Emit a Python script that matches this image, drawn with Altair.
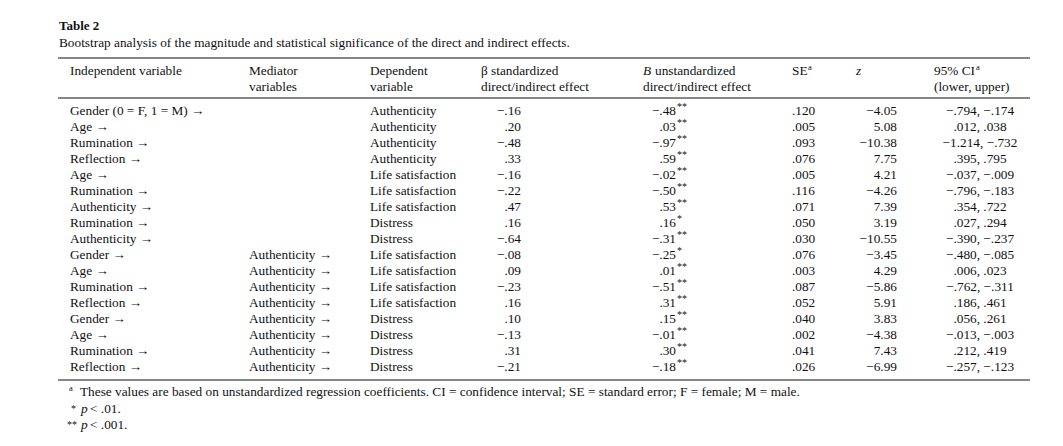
import altair as alt
import pandas as pd

# ---------------- data ----------------
independent = ["Gender (0 = F, 1 = M) →", "Age →", "Rumination →", "Reflection →", "Age →",
               "Rumination →", "Authenticity →", "Rumination →", "Authenticity →", "Gender →",
               "Age →", "Rumination →", "Reflection →", "Gender →", "Age →", "Rumination →",
               "Reflection →"]
mediator = [""] * 9 + ["Authenticity →"] * 8
dependent = (["Authenticity"] * 4 + ["Life satisfaction"] * 3 + ["Distress"] * 2
             + ["Life satisfaction"] * 4 + ["Distress"] * 4)
beta = ["−.16", ".20", "−.48", ".33", "−.16", "−.22", ".47", ".16", "−.64", "−.08", ".09",
        "−.23", ".16", ".10", "−.13", ".31", "−.21"]
b_unstd = ["−.48", ".03", "−.97", ".59", "−.02", "−.50", ".53", ".16", "−.31", "−.25", ".01",
           "−.51", ".31", ".15", "−.01", ".30", "−.18"]
b_sig = ["**", "**", "**", "**", "**", "**", "**", "*", "**", "*", "**", "**", "**", "**",
         "**", "**", "**"]
se = [".120", ".005", ".093", ".076", ".005", ".116", ".071", ".050", ".030", ".076", ".003",
      ".087", ".052", ".040", ".002", ".041", ".026"]
z_vals = ["−4.05", "5.08", "−10.38", "7.75", "4.21", "−4.26", "7.39", "3.19", "−10.55",
          "−3.45", "4.29", "−5.86", "5.91", "3.83", "−4.38", "7.43", "−6.99"]
ci = ["−.794, −.174", ".012, .038", "−1.214, −.732", ".395, .795", "−.037, −.009",
      "−.796, −.183", ".354, .722", ".027, .294", "−.390, −.237", "−.480, −.085",
      ".006, .023", "−.762, −.311", ".186, .461", ".056, .261", "−.013, −.003",
      ".212, .419", "−.257, −.123"]

title_text = "Table 2"
subtitle_text = ("Bootstrap analysis of the magnitude and statistical significance of the "
                 "direct and indirect effects.")
footnote_a = ("These values are based on unstandardized regression coefficients. "
              "CI = confidence interval; SE = standard error; F = female; M = male.")

# ---------------- layout ----------------
FONT = "Liberation Serif"
FS = 13.3
INK = "#111111"
W, H = 1047, 430

X_IND, X_MED, X_DEP = 62, 241, 362
X_BETA_H, X_BETA_R = 473, 513
X_B_H, X_B_R = 635, 668
X_SE = 784
X_Z_H, X_Z_R = 848, 889
X_CI_H, X_CI_C = 926, 972
Y_ROW1, Y_ROW17 = 107, 363
Y_H1, Y_H2 = 67, 83
RULE_X0, RULE_X1 = 50, 1022
RULES_Y = [50, 90, 372]

df = pd.DataFrame({
    "row": list(range(1, len(independent) + 1)),
    "independent": independent, "mediator": mediator, "dependent": dependent,
    "beta": beta, "b": b_unstd, "sig": b_sig, "se": se, "z": z_vals, "ci": ci,
})

yscale = alt.Scale(domain=[1, len(independent)], range=[Y_ROW1, Y_ROW17], zero=False, nice=False)
base = alt.Chart(df).encode(y=alt.Y("row:Q", scale=yscale, axis=None))


def col(field, x, align="left", size=FS, dx=0, dy=0):
    return base.mark_text(align=align, baseline="alphabetic", font=FONT, fontSize=size,
                          color=INK, dx=dx, dy=dy).encode(x=alt.value(x), text=f"{field}:N")


def label(text, x, y, size=FS, align="left", style="normal", weight="normal"):
    return alt.Chart(pd.DataFrame({"t": [text]})).mark_text(
        align=align, baseline="alphabetic", font=FONT, fontSize=size, fontStyle=style,
        fontWeight=weight, color=INK).encode(x=alt.value(x), y=alt.value(y), text="t:N")


def rule(y):
    return alt.Chart(pd.DataFrame({"k": [0]})).mark_rule(color="#111111", strokeWidth=1.1).encode(
        x=alt.value(RULE_X0), x2=alt.value(RULE_X1), y=alt.value(y))


layers = [rule(y) for y in RULES_Y]
layers += [
    col("independent", X_IND), col("mediator", X_MED), col("dependent", X_DEP),
    col("beta", X_BETA_R, "right"), col("b", X_B_R, "right"),
    col("sig", X_B_R + 1, "left", size=10, dy=-5),
    col("se", X_SE), col("z", X_Z_R, "right"), col("ci", X_CI_C, "center"),
]
# headers
layers += [
    label("Independent variable", X_IND, Y_H1),
    label("Mediator", X_MED, Y_H1), label("variables", X_MED, Y_H2),
    label("Dependent", X_DEP, Y_H1), label("variable", X_DEP, Y_H2),
    label("β standardized", X_BETA_H, Y_H1), label("direct/indirect effect", X_BETA_H, Y_H2),
    label("B", X_B_H, Y_H1, style="italic"), label("unstandardized", X_B_H + 12, Y_H1),
    label("direct/indirect effect", X_B_H, Y_H2),
    label("SE", X_SE, Y_H1), label("a", X_SE + 16, Y_H1 - 5, size=8.5),
    label("z", X_Z_H, Y_H1, style="italic"),
    label("95% CI", X_CI_H, Y_H1), label("a", X_CI_H + 42, Y_H1 - 5, size=8.5),
    label("(lower, upper)", X_CI_H, Y_H2),
]
# title and footnotes
layers += [
    label(title_text, 51, 22, size=13, weight="bold"),
    label(subtitle_text, 51, 39),
    label("a", 61, 383, size=8.5), label(footnote_a, 72, 388),
    label("*", 63, 404, size=10), label("p", 73, 405, style="italic"), label("< .01.", 82, 405),
    label("**", 59, 420, size=10), label("p", 73, 421, style="italic"), label("< .001.", 82, 421),
]

chart = alt.layer(*layers).properties(
    width=W, height=H, padding=0,
    autosize=alt.AutoSizeParams(type="fit", contains="padding"),
    background="white",
).configure_view(stroke=None)

chart.save("out.html", embed_options={"renderer": "svg", "actions": False})
